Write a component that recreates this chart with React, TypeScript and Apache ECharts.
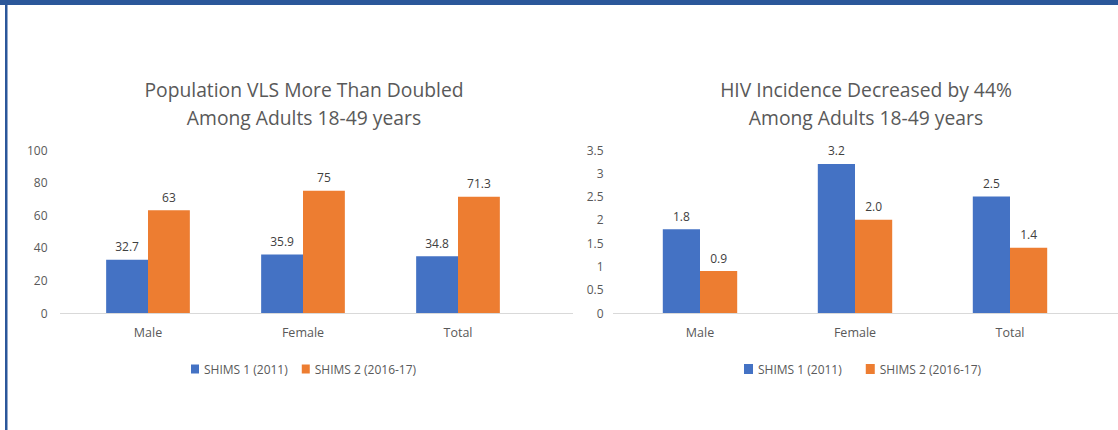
import React, { useEffect, useRef } from "react";
import * as echarts from "echarts";

const categories = ["Male", "Female", "Total"];
const seriesNames = ["SHIMS 1 (2011)", "SHIMS 2 (2016-17)"];
const vlsShims1 = [32.7, 35.9, 34.8];
const vlsShims2 = [63, 75, 71.3];
const incShims1 = [1.8, 3.2, 2.5];
const incShims2 = [0.9, 2.0, 1.4];
const leftTitle = "Population VLS More Than Doubled\nAmong Adults 18-49 years";
const rightTitle = "HIV Incidence Decreased by 44%\nAmong Adults 18-49 years";

const BLUE = "#4472C4";
const ORANGE = "#ED7D31";
const FRAME = "#2B579A";
const AXIS = "#d9d9d9";
const FONT = "'Open Sans', 'Noto Sans', sans-serif";

export default function App() {
  const ref = useRef<HTMLDivElement>(null);
  useEffect(() => {
    if (!ref.current) return;
    const chart = echarts.init(ref.current, null, { renderer: "svg" });
    const catLabel = { color: "#595959", fontSize: 12.5, fontFamily: FONT, margin: 13 };
    const valLabel = { color: "#595959", fontSize: 12, fontFamily: FONT };
    const labelStyle = { show: true, position: "top" as const, distance: 7, color: "#404040", fontSize: 12, fontFamily: FONT };
    const titleStyle = { color: "#595959", fontSize: 19.3, fontWeight: "normal" as const, fontFamily: FONT, lineHeight: 28 };
    const legendText = { color: "#595959", fontSize: 12, fontFamily: FONT };
    const ext = (x1: number, x2: number) => ({ type: "line", shape: { x1, y1: 313.5, x2, y2: 313.5 }, style: { stroke: AXIS, lineWidth: 1 }, silent: true });
    chart.setOption({
      animation: false,
      backgroundColor: "#ffffff",
      title: [
        { text: leftTitle, left: 299, top: 70, textAlign: "center", textStyle: titleStyle },
        { text: rightTitle, left: 861, top: 70, textAlign: "center", textStyle: titleStyle },
      ],
      legend: [
        { left: 186, top: 358, itemWidth: 8, itemHeight: 9, itemGap: 14, icon: "rect", textStyle: legendText, data: seriesNames },
        { left: 739, top: 358, itemWidth: 9, itemHeight: 10, itemGap: 24, icon: "rect", textStyle: legendText, data: seriesNames },
      ],
      grid: [
        { left: 70.5, width: 465, top: 150, height: 163 },
        { left: 622.5, width: 465, top: 150, height: 163 },
      ],
      xAxis: [
        { type: "category", gridIndex: 0, data: categories, axisLine: { lineStyle: { color: AXIS } }, axisTick: { show: false }, axisLabel: catLabel },
        { type: "category", gridIndex: 1, data: categories, axisLine: { lineStyle: { color: AXIS } }, axisTick: { show: false }, axisLabel: catLabel },
      ],
      yAxis: [
        { type: "value", gridIndex: 0, min: 0, max: 100, interval: 20, splitLine: { show: false }, axisLine: { show: false }, axisTick: { show: false }, axisLabel: { ...valLabel, margin: 23 } },
        { type: "value", gridIndex: 1, min: 0, max: 3.5, interval: 0.5, splitLine: { show: false }, axisLine: { show: false }, axisTick: { show: false }, axisLabel: { ...valLabel, margin: 19 } },
      ],
      series: [
        { name: seriesNames[0], type: "bar", xAxisIndex: 0, yAxisIndex: 0, data: vlsShims1, itemStyle: { color: BLUE }, barGap: "0%", barCategoryGap: "46%", label: labelStyle },
        { name: seriesNames[1], type: "bar", xAxisIndex: 0, yAxisIndex: 0, data: vlsShims2, itemStyle: { color: ORANGE }, barGap: "0%", barCategoryGap: "46%", label: labelStyle },
        { name: seriesNames[0], type: "bar", xAxisIndex: 1, yAxisIndex: 1, data: incShims1, itemStyle: { color: BLUE }, barGap: "0%", barCategoryGap: "52%", label: { ...labelStyle, formatter: (p: any) => Number(p.value).toFixed(1) } },
        { name: seriesNames[1], type: "bar", xAxisIndex: 1, yAxisIndex: 1, data: incShims2, itemStyle: { color: ORANGE }, barGap: "0%", barCategoryGap: "52%", label: { ...labelStyle, formatter: (p: any) => Number(p.value).toFixed(1) } },
      ],
      graphic: [
        { type: "rect", shape: { x: 0, y: 0, width: 1118, height: 5 }, style: { fill: FRAME }, silent: true },
        { type: "rect", shape: { x: 5, y: 0, width: 2.5, height: 430 }, style: { fill: FRAME }, silent: true },
        ext(60, 71),
        ext(535, 573),
        ext(613, 623),
        ext(1087, 1118),
      ],
    });
    return () => chart.dispose();
  }, []);
  return <div ref={ref} style={{ position: "fixed", left: 0, top: 0, width: 1118, height: 430 }} />;
}
